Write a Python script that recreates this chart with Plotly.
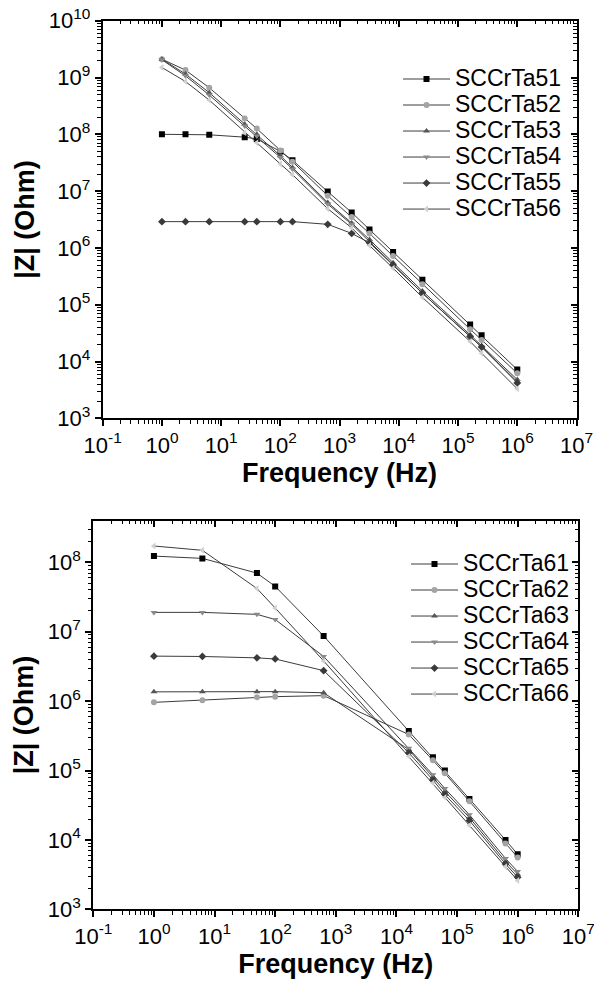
import plotly.graph_objects as go

# ---------------- data ----------------
freq_top = [1, 2.5, 6.3, 25, 40, 100, 160, 630, 1600, 3200, 8000, 25000, 160000, 250000, 1000000]
z_51 = [1.0e8, 1.0e8, 9.8e7, 8.9e7, 8.3e7, 5.0e7, 3.5e7, 9.8e6, 4.2e6, 2.1e6, 8.5e5, 2.75e5, 4.5e4, 2.9e4, 7.2e3]
z_52 = [2.1e9, 1.35e9, 6.6e8, 1.9e8, 1.26e8, 5.2e7, 3.3e7, 8.3e6, 3.5e6, 1.8e6, 7.2e5, 2.3e5, 3.7e4, 2.4e4, 6.2e3]
z_53 = [2.1e9, 1.15e9, 5.4e8, 1.5e8, 1.0e8, 4.2e7, 2.6e7, 6.3e6, 2.75e6, 1.4e6, 5.5e5, 1.74e5, 2.95e4, 1.9e4, 4.8e3]
z_54 = [2.05e9, 1.07e9, 4.9e8, 1.4e8, 9.3e7, 3.9e7, 2.45e7, 5.9e6, 2.6e6, 1.3e6, 5.1e5, 1.6e5, 2.75e4, 1.8e4, 4.4e3]
z_55 = [2.9e6, 2.9e6, 2.9e6, 2.9e6, 2.9e6, 2.9e6, 2.9e6, 2.6e6, 1.8e6, 1.23e6, 5.0e5, 1.6e5, 2.75e4, 1.8e4, 4.2e3]
z_56 = [1.5e9, 8.5e8, 4.0e8, 1.07e8, 7.1e7, 3.0e7, 1.95e7, 4.9e6, 2.25e6, 1.1e6, 4.4e5, 1.35e5, 2.25e4, 1.4e4, 3.3e3]
names_top = ["SCCrTa51", "SCCrTa52", "SCCrTa53", "SCCrTa54", "SCCrTa55", "SCCrTa56"]

freq_bot = [1, 6.3, 50, 100, 630, 16000, 40000, 63000, 160000, 630000, 1000000]
z_61 = [1.23e8, 1.14e8, 7.0e7, 4.5e7, 8.7e6, 3.7e5, 1.55e5, 1.0e5, 3.9e4, 1.0e4, 6.2e3]
z_62 = [9.6e5, 1.03e6, 1.14e6, 1.16e6, 1.2e6, 3.3e5, 1.4e5, 9.1e4, 3.6e4, 8.9e3, 5.6e3]
z_63 = [1.36e6, 1.37e6, 1.37e6, 1.37e6, 1.32e6, 2.0e5, 8.0e4, 5.0e4, 2.1e4, 4.9e3, 3.2e3]
z_64 = [1.9e7, 1.9e7, 1.78e7, 1.5e7, 4.4e6, 2.1e5, 8.7e4, 5.5e4, 2.3e4, 5.4e3, 3.5e3]
z_65 = [4.45e6, 4.4e6, 4.2e6, 4.05e6, 2.75e6, 1.8e5, 7.3e4, 4.5e4, 1.9e4, 4.5e3, 2.9e3]
z_66 = [1.72e8, 1.49e8, 4.2e7, 2.2e7, 3.8e6, 1.6e5, 6.6e4, 4.1e4, 1.62e4, 4.1e3, 2.6e3]
names_bot = ["SCCrTa61", "SCCrTa62", "SCCrTa63", "SCCrTa64", "SCCrTa65", "SCCrTa66"]

x_tick_vals = [1e-1, 1e0, 1e1, 1e2, 1e3, 1e4, 1e5, 1e6, 1e7]
x_tick_text = ["10<sup>-1</sup>", "10<sup>0</sup>", "10<sup>1</sup>", "10<sup>2</sup>", "10<sup>3</sup>",
               "10<sup>4</sup>", "10<sup>5</sup>", "10<sup>6</sup>", "10<sup>7</sup>"]
y_top_tick_vals = [1e3, 1e4, 1e5, 1e6, 1e7, 1e8, 1e9, 1e10]
y_top_tick_text = ["10<sup>3</sup>", "10<sup>4</sup>", "10<sup>5</sup>", "10<sup>6</sup>",
                   "10<sup>7</sup>", "10<sup>8</sup>", "10<sup>9</sup>", "10<sup>10</sup>"]
y_bot_tick_vals = [1e3, 1e4, 1e5, 1e6, 1e7, 1e8]
y_bot_tick_text = ["10<sup>3</sup>", "10<sup>4</sup>", "10<sup>5</sup>", "10<sup>6</sup>",
                   "10<sup>7</sup>", "10<sup>8</sup>"]

# ---------------- styles ----------------
symbols = ["square", "circle", "triangle-up", "triangle-down", "diamond", "triangle-left"]
marker_colors = ["#000000", "#a4a4a4", "#555555", "#8a8a8a", "#3a3a3a", "#d0d0d0"]
line_color = "#3c3c3c"
FONT = "Arial, Liberation Sans, sans-serif"
LEG_TXT = 23

def minor_vals(lo, hi):
    out = []
    for e in range(lo, hi):
        for m in range(2, 10):
            out.append(m * 10.0 ** e)
    return out

def leg_name(n):
    return "<span style='font-size:%dpx'>%s</span>" % (LEG_TXT, n)

fig = go.Figure()
for name, ys, sym, col in zip(names_top, [z_51, z_52, z_53, z_54, z_55, z_56], symbols, marker_colors):
    fig.add_trace(go.Scatter(x=freq_top, y=ys, mode="lines+markers", name=leg_name(name),
                             line=dict(color=line_color, width=1),
                             marker=dict(symbol=sym, size=6, color=col, line=dict(width=0)),
                             xaxis="x", yaxis="y", legend="legend"))
for name, ys, sym, col in zip(names_bot, [z_61, z_62, z_63, z_64, z_65, z_66], symbols, marker_colors):
    fig.add_trace(go.Scatter(x=freq_bot, y=ys, mode="lines+markers", name=leg_name(name),
                             line=dict(color=line_color, width=1),
                             marker=dict(symbol=sym, size=6, color=col, line=dict(width=0)),
                             xaxis="x2", yaxis="y2", legend="legend2"))

# empty helper traces so that the mirrored (inside-tick) axes get drawn
for xa, ya in [("x3", "y"), ("x", "y3"), ("x4", "y2"), ("x2", "y4")]:
    fig.add_trace(go.Scatter(x=[], y=[], xaxis=xa, yaxis=ya, showlegend=False, hoverinfo="skip"))

W, H = 594, 987
def px_x(p):
    return p / W
def px_y(p):
    return 1 - p / H

top_dom_x = [px_x(102.7), px_x(576.5)]
bot_dom_x = [px_x(93.3), px_x(578.3)]
top_dom_y = [px_y(418.3), px_y(20.7)]
bot_dom_y = [px_y(909.3), px_y(520.7)]

tick_font = dict(family=FONT, size=22, color="black")
title_font = dict(family=FONT, size=27, color="black")

def main_axis(rng, dom, anchor, tv, tt, mv, title, standoff):
    return dict(type="log", range=rng, domain=dom, anchor=anchor, automargin=False,
                showline=True, linecolor="black", linewidth=2, mirror=True,
                ticks="outside", ticklen=6, tickwidth=1.5, tickcolor="black",
                tickmode="array", tickvals=tv, ticktext=tt, tickfont=tick_font,
                ticklabeloverflow="allow",
                minor=dict(tickmode="array", tickvals=mv, ticks="outside", ticklen=3.5,
                           tickwidth=1.2, tickcolor="black", showgrid=False),
                showgrid=False, zeroline=False,
                title=dict(text=title, font=title_font, standoff=standoff))

def mirror_axis(rng, overlay, anchor, side, tv, mv):
    return dict(type="log", range=rng, overlaying=overlay, anchor=anchor, side=side,
                automargin=False,
                showline=True, linecolor="black", linewidth=2,
                ticks="inside", ticklen=6, tickwidth=1.5, tickcolor="black",
                tickmode="array", tickvals=tv, showticklabels=False,
                minor=dict(tickmode="array", tickvals=mv, ticks="inside", ticklen=3.5,
                           tickwidth=1.2, tickcolor="black", showgrid=False),
                showgrid=False, zeroline=False)

mx = minor_vals(-1, 7)
my_top = minor_vals(3, 10)
my_bot = minor_vals(3, 9)

leg_common = dict(xanchor="left", yanchor="top", bgcolor="rgba(0,0,0,0)",
                  font=dict(family=FONT, size=17.7, color="black"),
                  tracegroupgap=0, itemwidth=47)

fig.update_layout(
    width=W, height=H,
    margin=dict(l=0, r=0, t=0, b=0, autoexpand=False),
    paper_bgcolor="white", plot_bgcolor="white",
    font=dict(family=FONT, color="black"),
    hovermode=False,
    xaxis=main_axis([-1, 7], top_dom_x, "y", x_tick_vals, x_tick_text, mx, "<b>Frequency (Hz)</b>", 5),
    yaxis=main_axis([3, 10], top_dom_y, "x", y_top_tick_vals, y_top_tick_text, my_top, "<b>|Z| (Ohm)</b>", 6),
    xaxis2=main_axis([-1, 7], bot_dom_x, "y2", x_tick_vals, x_tick_text, mx, "<b>Frequency (Hz)</b>", 2),
    yaxis2=main_axis([3, 8.6], bot_dom_y, "x2", y_bot_tick_vals, y_bot_tick_text, my_bot, "<b>|Z| (Ohm)</b>", 6),
    xaxis3=mirror_axis([-1, 7], "x", "y", "top", x_tick_vals, mx),
    yaxis3=mirror_axis([3, 10], "y", "x", "right", y_top_tick_vals, my_top),
    xaxis4=mirror_axis([-1, 7], "x2", "y2", "top", x_tick_vals, mx),
    yaxis4=mirror_axis([3, 8.6], "y2", "x2", "right", y_bot_tick_vals, my_bot),
    legend=dict(x=px_x(398), y=px_y(61), **leg_common),
    legend2=dict(x=px_x(406), y=px_y(546), **leg_common),
    showlegend=True,
)

# remove the browser's default 8px page margin so the figure sits at the window's corner
fig.write_html("out.html", config=dict(displayModeBar=False),
               post_script="document.body.style.margin='0px';")
